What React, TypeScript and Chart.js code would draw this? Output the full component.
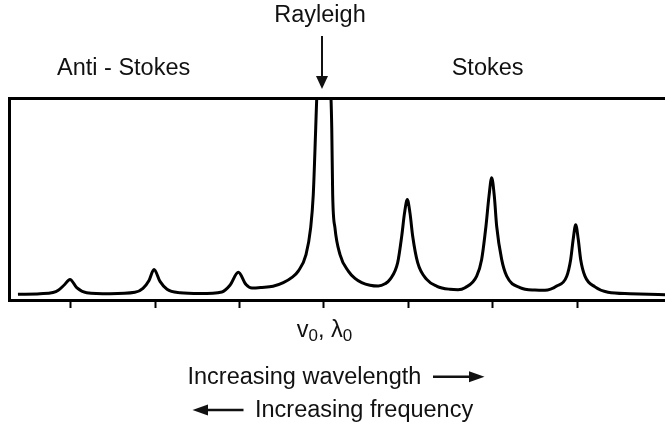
import { useEffect, useRef } from "react";
import { Chart, registerables } from "chart.js";

Chart.register(...registerables);

// Raman shift (arbitrary units, Rayleigh line at 0) sampled along the scattering trace
const shift = [
  -362.6, -336.5, -321.1, -314.8, -308.1, -300.9, -293.0, -281.2, -253.6, -224.0,
  -214.5, -207.3, -201.4, -194.3, -186.0, -170.6, -146.9, -120.9, -111.4, -101.5,
  -92.4, -85.3, -73.5, -60.4, -48.2, -37.9, -30.5, -21.3, -15.8, -12.7,
  -9.8, -8.6, 0, 8.3, 9.2, 10.3, 13.0, 19.0, 28.8, 36.7,
  44.7, 54.5, 64.3, 72.3, 78.2, 87.3, 92.1, 95.4, 98.7, 101.9,
  105.1, 111.0, 121.7, 133.9, 149.3, 158.8, 167.1, 180.9, 186.8, 191.9,
  195.5, 198.7, 201.8, 204.6, 210.5, 216.5, 232.2, 250.0, 261.8, 275.7,
  287.6, 292.3, 295.3, 298.2, 301.2, 304.1, 309.2, 321.1, 336.5, 362.6,
  404.0, 433.6,
];

// Scattered intensity (arbitrary units, frame top = 100); the Rayleigh line runs off scale
const intensity = [
  2.8, 3.1, 3.7, 4.8, 7.3, 10.2, 6.1, 3.6, 3.1, 3.8,
  5.8, 9.7, 15.1, 9.2, 5.3, 3.6, 3.2, 4.0, 7.3, 13.7,
  7.7, 5.9, 6.2, 6.8, 8.6, 11.2, 14.3, 22.5, 35.7, 52.1,
  85.1, 99.9, 150, 99.9, 85.1, 52.1, 35.7, 22.5, 14.3, 10.7,
  8.6, 7.3, 6.9, 8.0, 10.2, 18.5, 31.6, 43.0, 49.7, 43.0,
  31.6, 18.5, 10.2, 6.8, 5.3, 5.1, 6.1, 11.8, 20.1, 36.5,
  51.4, 60.5, 51.4, 36.5, 20.1, 11.8, 6.1, 4.9, 4.8, 6.9,
  11.8, 20.1, 30.2, 37.3, 30.2, 20.1, 11.8, 6.5, 3.8, 3.1,
  2.6, 2.3,
];

// Tick marks on the shift axis, one per line
const tickShifts = [-300, -200, -100, 0, 100, 200, 300];

const shiftMin = -373.2;
const shiftMax = 445.5;

const regionLabels = ["Anti - Stokes", "Stokes"];
const rayleighLabel = "Rayleigh";
const wavelengthLabel = "Increasing wavelength";
const frequencyLabel = "Increasing frequency";

const FONT = '"Liberation Sans", Arial, Helvetica, sans-serif';
const FS = 23.5;

function TextAt(props: {
  x: number;
  baseline: number;
  align?: "left" | "center";
  children: any;
}) {
  const { x, baseline, align = "left", children } = props;
  return (
    <div
      style={{
        position: "absolute",
        left: x,
        top: baseline - 0.8465 * FS,
        fontSize: FS,
        lineHeight: `${FS}px`,
        whiteSpace: "nowrap",
        transform: align === "center" ? "translateX(-50%)" : undefined,
      }}
    >
      {children}
    </div>
  );
}

const Sub = ({ children }: { children: any }) => (
  <span style={{ fontSize: 17, position: "relative", top: 4.5 }}>{children}</span>
);

export default function App() {
  const canvasRef = useRef<HTMLCanvasElement>(null);

  useEffect(() => {
    const canvas = canvasRef.current;
    if (!canvas) return;
    const points = shift.map((x, i) => ({ x, y: intensity[i] }));
    const chart = new Chart(canvas, {
      type: "line",
      data: {
        datasets: [
          {
            data: points,
            borderColor: "#000",
            borderWidth: 3,
            pointRadius: 0,
            fill: false,
            cubicInterpolationMode: "monotone",
          },
        ],
      },
      options: {
        responsive: false,
        animation: false,
        devicePixelRatio: 1,
        events: [],
        layout: { padding: { left: 9, top: 98, right: 0, bottom: 119 } },
        scales: {
          x: {
            type: "linear",
            min: shiftMin,
            max: shiftMax,
            afterBuildTicks: (scale: any) => {
              scale.ticks = tickShifts.map((value) => ({ value }));
            },
            grid: {
              drawOnChartArea: false,
              drawTicks: true,
              tickLength: 8,
              tickWidth: 2,
              tickColor: "#000",
            },
            border: { display: true, color: "#000", width: 3 },
            ticks: { display: false },
          },
          xTop: {
            type: "linear",
            position: "top",
            axis: "x",
            min: shiftMin,
            max: shiftMax,
            grid: { display: false, drawTicks: false },
            border: { display: true, color: "#000", width: 3 },
            ticks: { display: false },
          },
          y: {
            type: "linear",
            min: 0,
            max: 100,
            grid: { display: false, drawTicks: false },
            border: { display: true, color: "#000", width: 3 },
            ticks: { display: false },
          },
        },
        plugins: {
          legend: { display: false },
          tooltip: { enabled: false },
        },
      } as any,
    });
    return () => chart.destroy();
  }, []);

  return (
    <div
      style={{
        position: "fixed",
        left: 0,
        top: 0,
        width: 665,
        height: 427,
        overflow: "hidden",
        background: "#fff",
        fontFamily: FONT,
        color: "#111",
      }}
    >
      <canvas
        ref={canvasRef}
        width={700}
        height={427}
        style={{ position: "absolute", left: 0, top: 0, width: 700, height: 427 }}
      />
      <svg
        width={665}
        height={427}
        style={{ position: "absolute", left: 0, top: 0 }}
      >
        {/* Rayleigh pointer */}
        <line x1={322} y1={36} x2={322} y2={78} stroke="#111" strokeWidth={2} />
        <polygon points="316,76 328,76 322,89" fill="#111" />
        {/* wavelength direction */}
        <line x1={433} y1={376.7} x2={472} y2={376.7} stroke="#111" strokeWidth={2.6} />
        <polygon points="469,371.2 469,382.2 484.5,376.7" fill="#111" />
        {/* frequency direction */}
        <line x1={243.5} y1={410} x2={205} y2={410} stroke="#111" strokeWidth={2.6} />
        <polygon points="208,404.5 208,415.5 192.5,410" fill="#111" />
      </svg>
      <TextAt x={320} baseline={23} align="center">
        {rayleighLabel}
      </TextAt>
      <TextAt x={57} baseline={76}>
        {regionLabels[0]}
      </TextAt>
      <TextAt x={451.7} baseline={76}>
        {regionLabels[1]}
      </TextAt>
      <TextAt x={324.5} baseline={337.5} align="center">
        v<Sub>0</Sub>, λ<Sub>0</Sub>
      </TextAt>
      <TextAt x={187.5} baseline={385}>
        {wavelengthLabel}
      </TextAt>
      <TextAt x={255} baseline={418.3}>
        {frequencyLabel}
      </TextAt>
    </div>
  );
}
